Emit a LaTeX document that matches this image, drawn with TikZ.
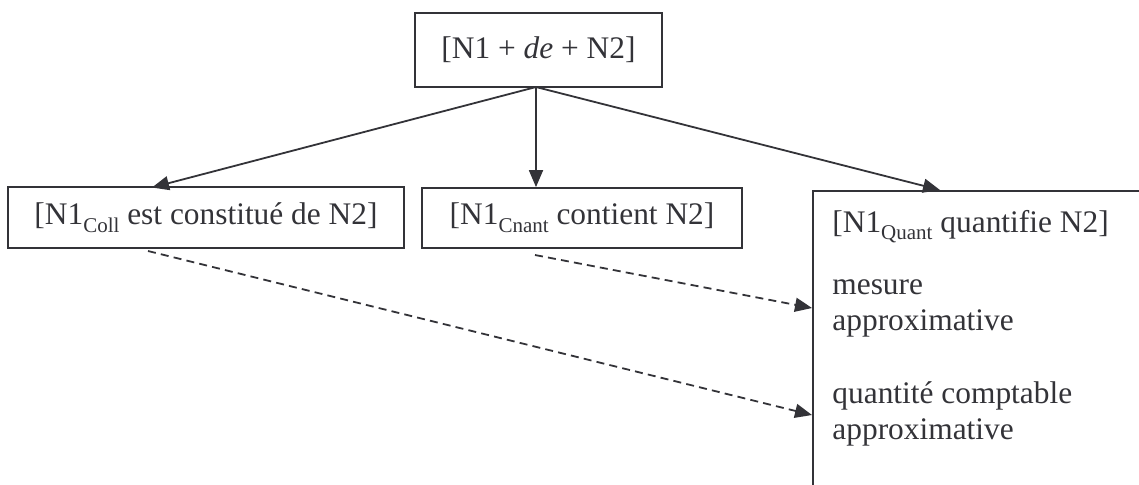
\documentclass[tikz,border=0pt]{standalone}
\usepackage{fontspec}
\setmainfont{Liberation Serif}
\usetikzlibrary{arrows.meta}
\definecolor{ink}{HTML}{333338}
\newcommand{\lowtxt}[1]{\raisebox{-0.55ex}{\fontsize{10.5}{12}\selectfont #1}}
\begin{document}
\begin{tikzpicture}[x=0.5pt,y=-0.5pt,
  every node/.style={text=ink,font=\fontsize{15.7}{18}\selectfont,inner sep=0pt},
  box/.style={draw=ink,line width=0.9pt,rectangle},
  conn/.style={draw=ink,line width=0.9pt,-{Triangle[length=8.5pt,width=7pt]}},
  dconn/.style={conn,dash pattern=on 4pt off 2.6pt},
  txt/.style={anchor=base west}]
\useasboundingbox (0,0) rectangle (1139,484);
\clip (0,0) rectangle (1139,484);
\node[box,minimum width=123.5pt,minimum height=37pt] (top) at (538.5,50) {[N1 + \textit{de} + N2]};
\node[box,minimum width=198pt,minimum height=30.5pt] (coll) at (206,217.5) {[N1\lowtxt{Coll} est constitué de N2]};
\node[box,minimum width=160pt,minimum height=30pt] (cnant) at (582,218) {[N1\lowtxt{Cnant} contient N2]};
\node[box,minimum width=200pt,minimum height=200pt,anchor=north west] (quant) at (812,190) {};
\node[txt] (q1) at (832,232) {[N1\lowtxt{Quant} quantifie N2]};
\node[txt] (q2) at (832,294) {mesure};
\node[txt] (q3) at (832,330) {approximative};
\node[txt] (q4) at (832,403) {quantité comptable};
\node[txt] (q5) at (832,439) {approximative};
\coordinate (src) at (536,87);
\draw[conn] (src) -- (152,187.5);
\draw[conn] (src) -- (cnant.north -| src);
\draw[conn] (src) -- (940,190);
\coordinate (d1) at (148,251);
\coordinate (d2) at (535,255);
\coordinate (t1) at (812,415);
\coordinate (t2) at (812,308);
\draw[dconn] (d1) -- (t1);
\draw[dconn] (d2) -- (t2);
\end{tikzpicture}
\end{document}
